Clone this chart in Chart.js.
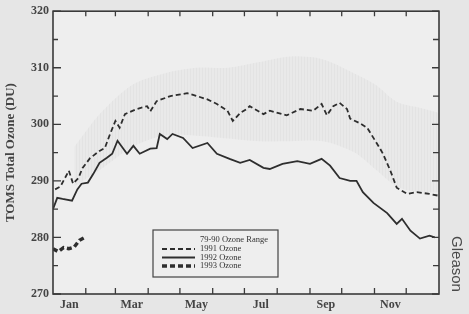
<!DOCTYPE html>
<html><head><meta charset="utf-8">
<script src="https://cdn.jsdelivr.net/npm/chart.js@4/dist/chart.umd.min.js"></script>
<style>
html,body{margin:0;padding:0;background:#e6e6e6;}
#wrap{position:relative;width:469px;height:314px;}
</style></head><body><div id="wrap"><canvas id="c" width="469" height="314"></canvas></div>
<script>
const monthLabels = ['Jan','Mar','May','Jul','Sep','Nov'];
const monthLabelDays = [15.5, 74.5, 135.5, 196.5, 258, 319];
const monthBoundaryDays = [31,59,90,120,151,181,212,243,273,304,334];
const yTickValues = [270,280,290,300,310,320];
const yMinorValues = [275,285,295,305,315];

const rangeDays  = [20, 45, 75, 105, 135, 165, 195, 225, 255, 285, 305, 325, 345, 365];
const rangeUpper = [296, 302, 307, 309, 310, 310, 311, 312, 311.5, 309, 307, 304, 303, 302];
const rangeLower = [289, 292, 296, 298, 298, 297.5, 297, 297, 297, 295, 292, 289, 288, 288];

const days1991 = [2,7,15,19,24,28,35,44,49,54,59,63,68,79,89,92,98,111,127,136,146,155,165,170,177,183,186,199,205,221,234,246,254,259,265,271,278,281,290,297,303,309,312,319,325,335,344,356,364];
const ozone1991 = [288.5,289,291.8,289.5,290.5,292.3,294,295.3,295.8,298.3,300.6,299.4,301.8,302.7,303.2,302.3,304.1,305,305.5,305,304.4,303.6,302.4,300.6,302,302.7,303.2,301.8,302.4,301.6,302.7,302.4,303.6,301.6,303.2,303.8,302.7,301,300.2,299.4,297.6,295.8,294.8,291.8,288.8,287.7,288,287.7,287.4];

const days1992 = [0,4,9,18,23,27,33,38,44,51,56,61,70,76,82,92,98,101,108,113,123,132,146,155,167,177,186,199,205,217,231,243,254,262,271,281,287,293,303,316,325,330,338,347,356,361];
const ozone1992 = [285,287,286.8,286.5,288.5,289.5,289.7,291.2,293.2,294.1,294.8,297.1,294.8,296.2,294.8,295.7,295.8,298.3,297.4,298.3,297.6,295.8,296.7,294.8,293.9,293.2,293.7,292.3,292.1,293,293.5,293,293.9,292.7,290.5,290,290,288,286.1,284.3,282.4,283.3,281.2,279.8,280.3,280];

const days1993 = [0,5,10,15,20,25,30];
const ozone1993 = [278,277.5,278.2,278,278.3,279.5,280];

const seriesNames = ['79-90 Ozone Range','1991 Ozone','1992 Ozone','1993 Ozone'];

function pts(xs, ys){ return xs.map((x,i)=>({x:x, y:ys[i]})); }

function hatch(){
  const p = document.createElement('canvas'); p.width = 3; p.height = 6;
  const g = p.getContext('2d');
  g.fillStyle = 'rgba(0,0,0,0.02)'; g.fillRect(0,0,3,6);
  g.fillStyle = 'rgba(60,60,60,0.045)'; g.fillRect(1,0,1,6);
  return document.getElementById('c').getContext('2d').createPattern(p,'repeat');
}

const ink = '#2e2e2e';
const frame = {
  id:'frame',
  beforeDraw(chart){
    const {ctx, chartArea:a} = chart;
    ctx.save(); ctx.fillStyle = '#eeeeee';
    ctx.fillRect(a.left, a.top, a.right-a.left, a.bottom-a.top); ctx.restore();
  },
  afterDraw(chart){
    const {ctx, chartArea:a, scales:{x,y}} = chart;
    ctx.save();
    ctx.strokeStyle = '#3a3a3a'; ctx.lineWidth = 1.6;
    ctx.strokeRect(a.left, a.top, a.right-a.left, a.bottom-a.top);
    ctx.lineWidth = 1.3;
    ctx.beginPath();
    monthBoundaryDays.forEach(d=>{
      const px = x.getPixelForValue(d);
      ctx.moveTo(px, a.bottom); ctx.lineTo(px, a.bottom-6);
      ctx.moveTo(px, a.top); ctx.lineTo(px, a.top+5);
    });
    yTickValues.forEach(v=>{
      const py = y.getPixelForValue(v);
      ctx.moveTo(a.left, py); ctx.lineTo(a.left+8, py);
      ctx.moveTo(a.right, py); ctx.lineTo(a.right-7, py);
    });
    yMinorValues.forEach(v=>{
      const py = y.getPixelForValue(v);
      ctx.moveTo(a.left, py); ctx.lineTo(a.left+5, py);
      ctx.moveTo(a.right, py); ctx.lineTo(a.right-6, py);
    });
    ctx.stroke();

    // legend box
    const bx = 153, by = 230, bw = 125, bh = 47;
    ctx.fillStyle = '#eeeeee';
    ctx.fillRect(bx, by, bw, bh);
    ctx.strokeStyle = '#444'; ctx.lineWidth = 1.2;
    ctx.strokeRect(bx, by, bw, bh);
    const rows = [240, 249, 257.5, 266];
    ctx.font = '8.5px "Liberation Serif", serif';
    ctx.fillStyle = '#333'; ctx.textBaseline = 'middle'; ctx.textAlign = 'left';
    seriesNames.forEach((n,i)=>{
      ctx.fillText(n, 200, rows[i]);
      const ds = chart.data.datasets[i+1];
      if (i>0){
        ctx.save();
        ctx.strokeStyle = ds.borderColor; ctx.lineWidth = ds.borderWidth;
        ctx.setLineDash(ds.borderDash || []);
        ctx.beginPath(); ctx.moveTo(162, rows[i]); ctx.lineTo(195, rows[i]); ctx.stroke();
        ctx.restore();
      }
    });

    // Gleason credit
    ctx.save();
    ctx.translate(456, 264); ctx.rotate(Math.PI/2);
    ctx.font = '15px "Liberation Sans", Arial, sans-serif';
    ctx.fillStyle = '#4a4a4a'; ctx.textAlign = 'center'; ctx.textBaseline = 'middle';
    ctx.fillText('Gleason', 0, 0);
    ctx.restore();
    ctx.restore();
  }
};

const tickFont = {family:'"Liberation Serif", serif', size:12, weight:'bold'};

new Chart(document.getElementById('c'), {
  type:'line',
  data:{ datasets:[
    {label:'upper', data:pts(rangeDays, rangeUpper), borderWidth:0, pointRadius:0, fill:false, tension:0.3},
    {label:seriesNames[0], data:pts(rangeDays, rangeLower), borderWidth:0, pointRadius:0, fill:'-1', backgroundColor:hatch(), tension:0.3},
    {label:seriesNames[1], data:pts(days1991, ozone1991), borderColor:ink, borderWidth:1.8, borderDash:[5,3], pointRadius:0, fill:false, tension:0},
    {label:seriesNames[2], data:pts(days1992, ozone1992), borderColor:ink, borderWidth:1.8, pointRadius:0, fill:false, tension:0},
    {label:seriesNames[3], data:pts(days1993, ozone1993), borderColor:ink, borderWidth:3.5, borderDash:[5,3], pointRadius:0, fill:false, tension:0}
  ]},
  options:{
    responsive:false, animation:false, devicePixelRatio:1,
    layout:{padding:{left:0, top:10, right:30, bottom:0}},
    plugins:{legend:{display:false}, tooltip:{enabled:false}},
    scales:{
      x:{type:'linear', min:0, max:365,
        afterBuildTicks:s=>{ s.ticks = monthLabelDays.map(v=>({value:v})); },
        afterFit:s=>{ s.height = 20; },
        ticks:{callback:v=>monthLabels[monthLabelDays.indexOf(v)], font:tickFont, color:'#444', maxRotation:0, autoSkip:false, padding:4},
        grid:{display:false, drawTicks:false}, border:{display:false}},
      y:{min:270, max:320,
        afterBuildTicks:s=>{ s.ticks = yTickValues.map(v=>({value:v})); },
        afterFit:s=>{ s.width = 53; },
        ticks:{font:tickFont, color:'#444', padding:4},
        title:{display:true, text:'TOMS Total Ozone (DU)', font:{family:'"Liberation Serif", serif', size:13, weight:'bold'}, color:'#444', padding:{top:3,bottom:0}},
        grid:{display:false, drawTicks:false}, border:{display:false}}
    }
  },
  plugins:[frame]
});
</script></body></html>
